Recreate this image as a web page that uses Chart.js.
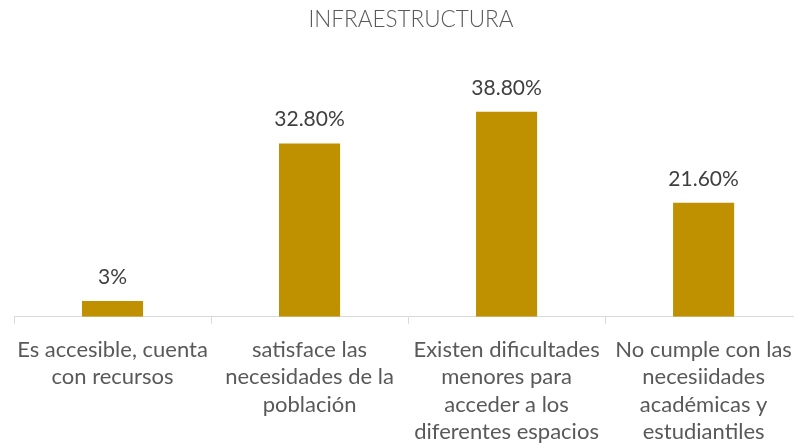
<!DOCTYPE html>
<html>
<head>
<meta charset="utf-8">
<script src="https://cdn.jsdelivr.net/npm/chart.js@4.4.1/dist/chart.umd.min.js"></script>
<style>
html,body{margin:0;padding:0;background:#fff;overflow:hidden;}
#wrap{width:805px;height:458px;}
</style>
</head>
<body>
<div id="wrap"><canvas id="chart"></canvas></div>
<script>
// chart data
const categories = [
  ["Es accesible, cuenta","con recursos"],
  ["satisface las","necesidades de la","población"],
  ["Existen dificultades","menores para","acceder a los","diferentes espacios"],
  ["No cumple con las","necesiidades","académicas y","estudiantiles"]
];
const values = [3, 32.8, 38.8, 21.6];
const valueLabels = ["3%","32.80%","38.80%","21.60%"];
const chartTitle = "INFRAESTRUCTURA";

/* ======================
   TITLE + VALUE LABELS
====================== */
const barLabels = {
  id: "barLabels",
  afterDatasetsDraw(chart){
    const ctx = chart.ctx;
    const meta = chart.getDatasetMeta(0);
    ctx.save();
    // title (slightly right of centre, like the original)
    ctx.font = "300 22.5px Lato";
    ctx.fillStyle = "#595959";
    ctx.textAlign = "center";
    ctx.textBaseline = "middle";
    ctx.fillText(chartTitle, 411, 20);

    ctx.font = "21px Lato";
    ctx.fillStyle = "#404040";
    ctx.textBaseline = "alphabetic";
    meta.data.forEach((bar,i)=>{
      ctx.fillText(valueLabels[i], bar.x, bar.y - 17);
    });
    ctx.restore();
  }
};

new Chart(document.getElementById("chart"),{
  type:"bar",
  data:{
    labels:categories,
    datasets:[{
      data:values,
      backgroundColor:"#BF9000",
      categoryPercentage:1,
      barPercentage:0.31
    }]
  },
  options:{
    responsive:true,
    maintainAspectRatio:false,
    animation:false,
    layout:{padding:{left:14,right:1,top:79,bottom:0}},
    plugins:{
      legend:{display:false},
      tooltip:{enabled:false},
      title:{display:false}
    },
    scales:{
      y:{display:false,min:0,max:45},
      x:{
        grid:{
          offset:true,
          drawOnChartArea:false,
          drawTicks:true,
          tickLength:7,
          color:"#D9D9D9"
        },
        border:{color:"#D9D9D9",width:1},
        ticks:{
          color:"#595959",
          font:{family:"Lato",size:22,lineHeight:1.23},
          padding:13,
          maxRotation:0,
          autoSkip:false
        }
      }
    }
  },
  plugins:[barLabels]
});
</script>
</body>
</html>
